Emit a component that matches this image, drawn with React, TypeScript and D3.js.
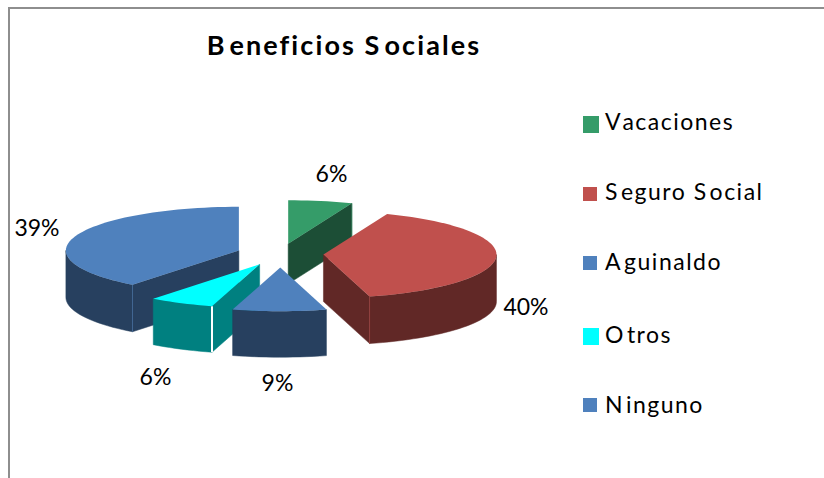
import React from "react";
import * as d3 from "d3";

const title = "Beneficios Sociales";
const categories = ["Vacaciones", "Seguro Social", "Aguinaldo", "Otros", "Ninguno"];
const shares = [6, 39.7, 8.74, 6.1, 39.46];
const topColors = ["#359C69", "#C0504D", "#4F81BD", "#00FFFF", "#4F81BD"];
const sideColors = ["#1C4E36", "#612826", "#27405F", "#008080", "#27405F"];
const explosions = [41, 43, 54, 46, 44];
const depths = [40, 47, 46, 46, 47];
const drawOrder = [0, 4, 1, 3, 2];

const labelAnchors: [number, number][] = [
  [331.5, 182],
  [526, 315],
  [277.5, 390.5],
  [155.5, 385],
  [37, 236],
];
const legendRows = [
  { y: 116, w: 16, h: 17, base: 130 },
  { y: 187, w: 14, h: 14, base: 200 },
  { y: 256, w: 14, h: 14, base: 270 },
  { y: 328, w: 16, h: 17, base: 343 },
  { y: 398, w: 14, h: 14, base: 413 },
];

const cx = 280.5;
const cy = 254;
const rx = 173;
const tilt = 0.252;
const FONT = "Lato, 'Open Sans', sans-serif";

const pct = d3.format(".0%");
const total = d3.sum(shares);
const arcs = d3.pie<number>().sort(null).value((d) => d)(shares);
const line = d3.line();

function project(o: [number, number], t: number, r = rx, dz = 0): [number, number] {
  return [o[0] + r * Math.sin(t), o[1] - r * tilt * Math.cos(t) + dz];
}
function sampleAngles(a: number, b: number) {
  const n = Math.max(2, Math.ceil(Math.abs(b - a) / 0.04));
  return d3.range(n + 1).map((i) => a + ((b - a) * i) / n);
}

// The reference leaves a small gap after each capital letter.
function Spaced({ text, gap }: { text: string; gap: number }) {
  const parts = text.split(/(?<=[A-Z])/);
  return (
    <>
      {parts.map((p, i) => (
        <tspan key={i} dx={i === 0 ? 0 : gap}>
          {p}
        </tspan>
      ))}
    </>
  );
}

function Slice({ i }: { i: number }) {
  const { startAngle: s, endAngle: e } = arcs[i];
  const mid = (s + e) / 2;
  const o = project([cx, cy], mid, explosions[i]);
  const d = depths[i];
  const top = [o, ...sampleAngles(s, e).map((t) => project(o, t))] as [number, number][];

  const faces: { pts: [number, number][]; edge: number }[] = [];
  if (Math.sin(s) < -1e-6) {
    faces.push({
      pts: [o, project(o, s), project(o, s, rx, d), project(o, 0, 0, d)],
      edge: s,
    });
  }
  if (Math.sin(e) > 1e-6) {
    faces.push({
      pts: [o, project(o, e), project(o, e, rx, d), project(o, 0, 0, d)],
      edge: e,
    });
  }
  const rimA = Math.max(s, Math.PI / 2);
  const rimB = Math.min(e, (3 * Math.PI) / 2);
  const rimAngles = rimB > rimA ? sampleAngles(rimA, rimB) : [];
  const rim = rimAngles.length
    ? ([
        ...rimAngles.map((t) => project(o, t)),
        ...rimAngles.slice().reverse().map((t) => project(o, t, rx, d)),
      ] as [number, number][])
    : null;
  const isCyan = topColors[i] === "#00FFFF";

  return (
    <g>
      {faces.map((f, k) => (
        <path key={k} d={line(f.pts) + "Z"} fill={sideColors[i]} stroke={sideColors[i]} strokeWidth={0.5} />
      ))}
      {rim && <path d={line(rim) + "Z"} fill={sideColors[i]} stroke={sideColors[i]} strokeWidth={0.5} />}
      {faces.map((f, k) => (
        <path
          key={"e" + k}
          d={line([project(o, f.edge), project(o, f.edge, rx, d)])!}
          stroke={isCyan ? "#FFFFFF" : topColors[i]}
          strokeOpacity={isCyan ? 1 : 0.5}
          strokeWidth={isCyan ? 2 : 1}
          fill="none"
        />
      ))}
      <path d={line(top) + "Z"} fill={topColors[i]} />
    </g>
  );
}

export default function App() {
  return (
    <svg
      width={824}
      height={478}
      viewBox="0 0 824 478"
      style={{ position: "absolute", left: 0, top: 0, background: "#fff", display: "block" }}
    >
      <rect x={9} y={8} width={830} height={490} fill="#fff" stroke="#8E8E8E" strokeWidth={2} />
      <text
        x={344}
        y={55}
        textAnchor="middle"
        fontFamily={FONT}
        fontWeight={700}
        fontSize={27}
        letterSpacing={2.1}
        fill="#000"
      >
        <Spaced text={title} gap={3} />
      </text>
      {drawOrder.map((i) => (
        <Slice key={i} i={i} />
      ))}
      {categories.map((c, i) => (
        <text
          key={"p" + c}
          x={labelAnchors[i][0]}
          y={labelAnchors[i][1]}
          textAnchor="middle"
          fontFamily={FONT}
          fontSize={23}
          fill="#000"
        >
          {pct(Math.round(shares[i]) / Math.round(total))}
        </text>
      ))}
      {categories.map((c, i) => (
        <g key={"l" + c}>
          <rect x={583} y={legendRows[i].y} width={legendRows[i].w} height={legendRows[i].h} fill={topColors[i]} />
          <text x={605} y={legendRows[i].base} fontFamily={FONT} fontSize={23} letterSpacing={1.5} fill="#000">
            <Spaced text={c} gap={2} />
          </text>
        </g>
      ))}
    </svg>
  );
}
